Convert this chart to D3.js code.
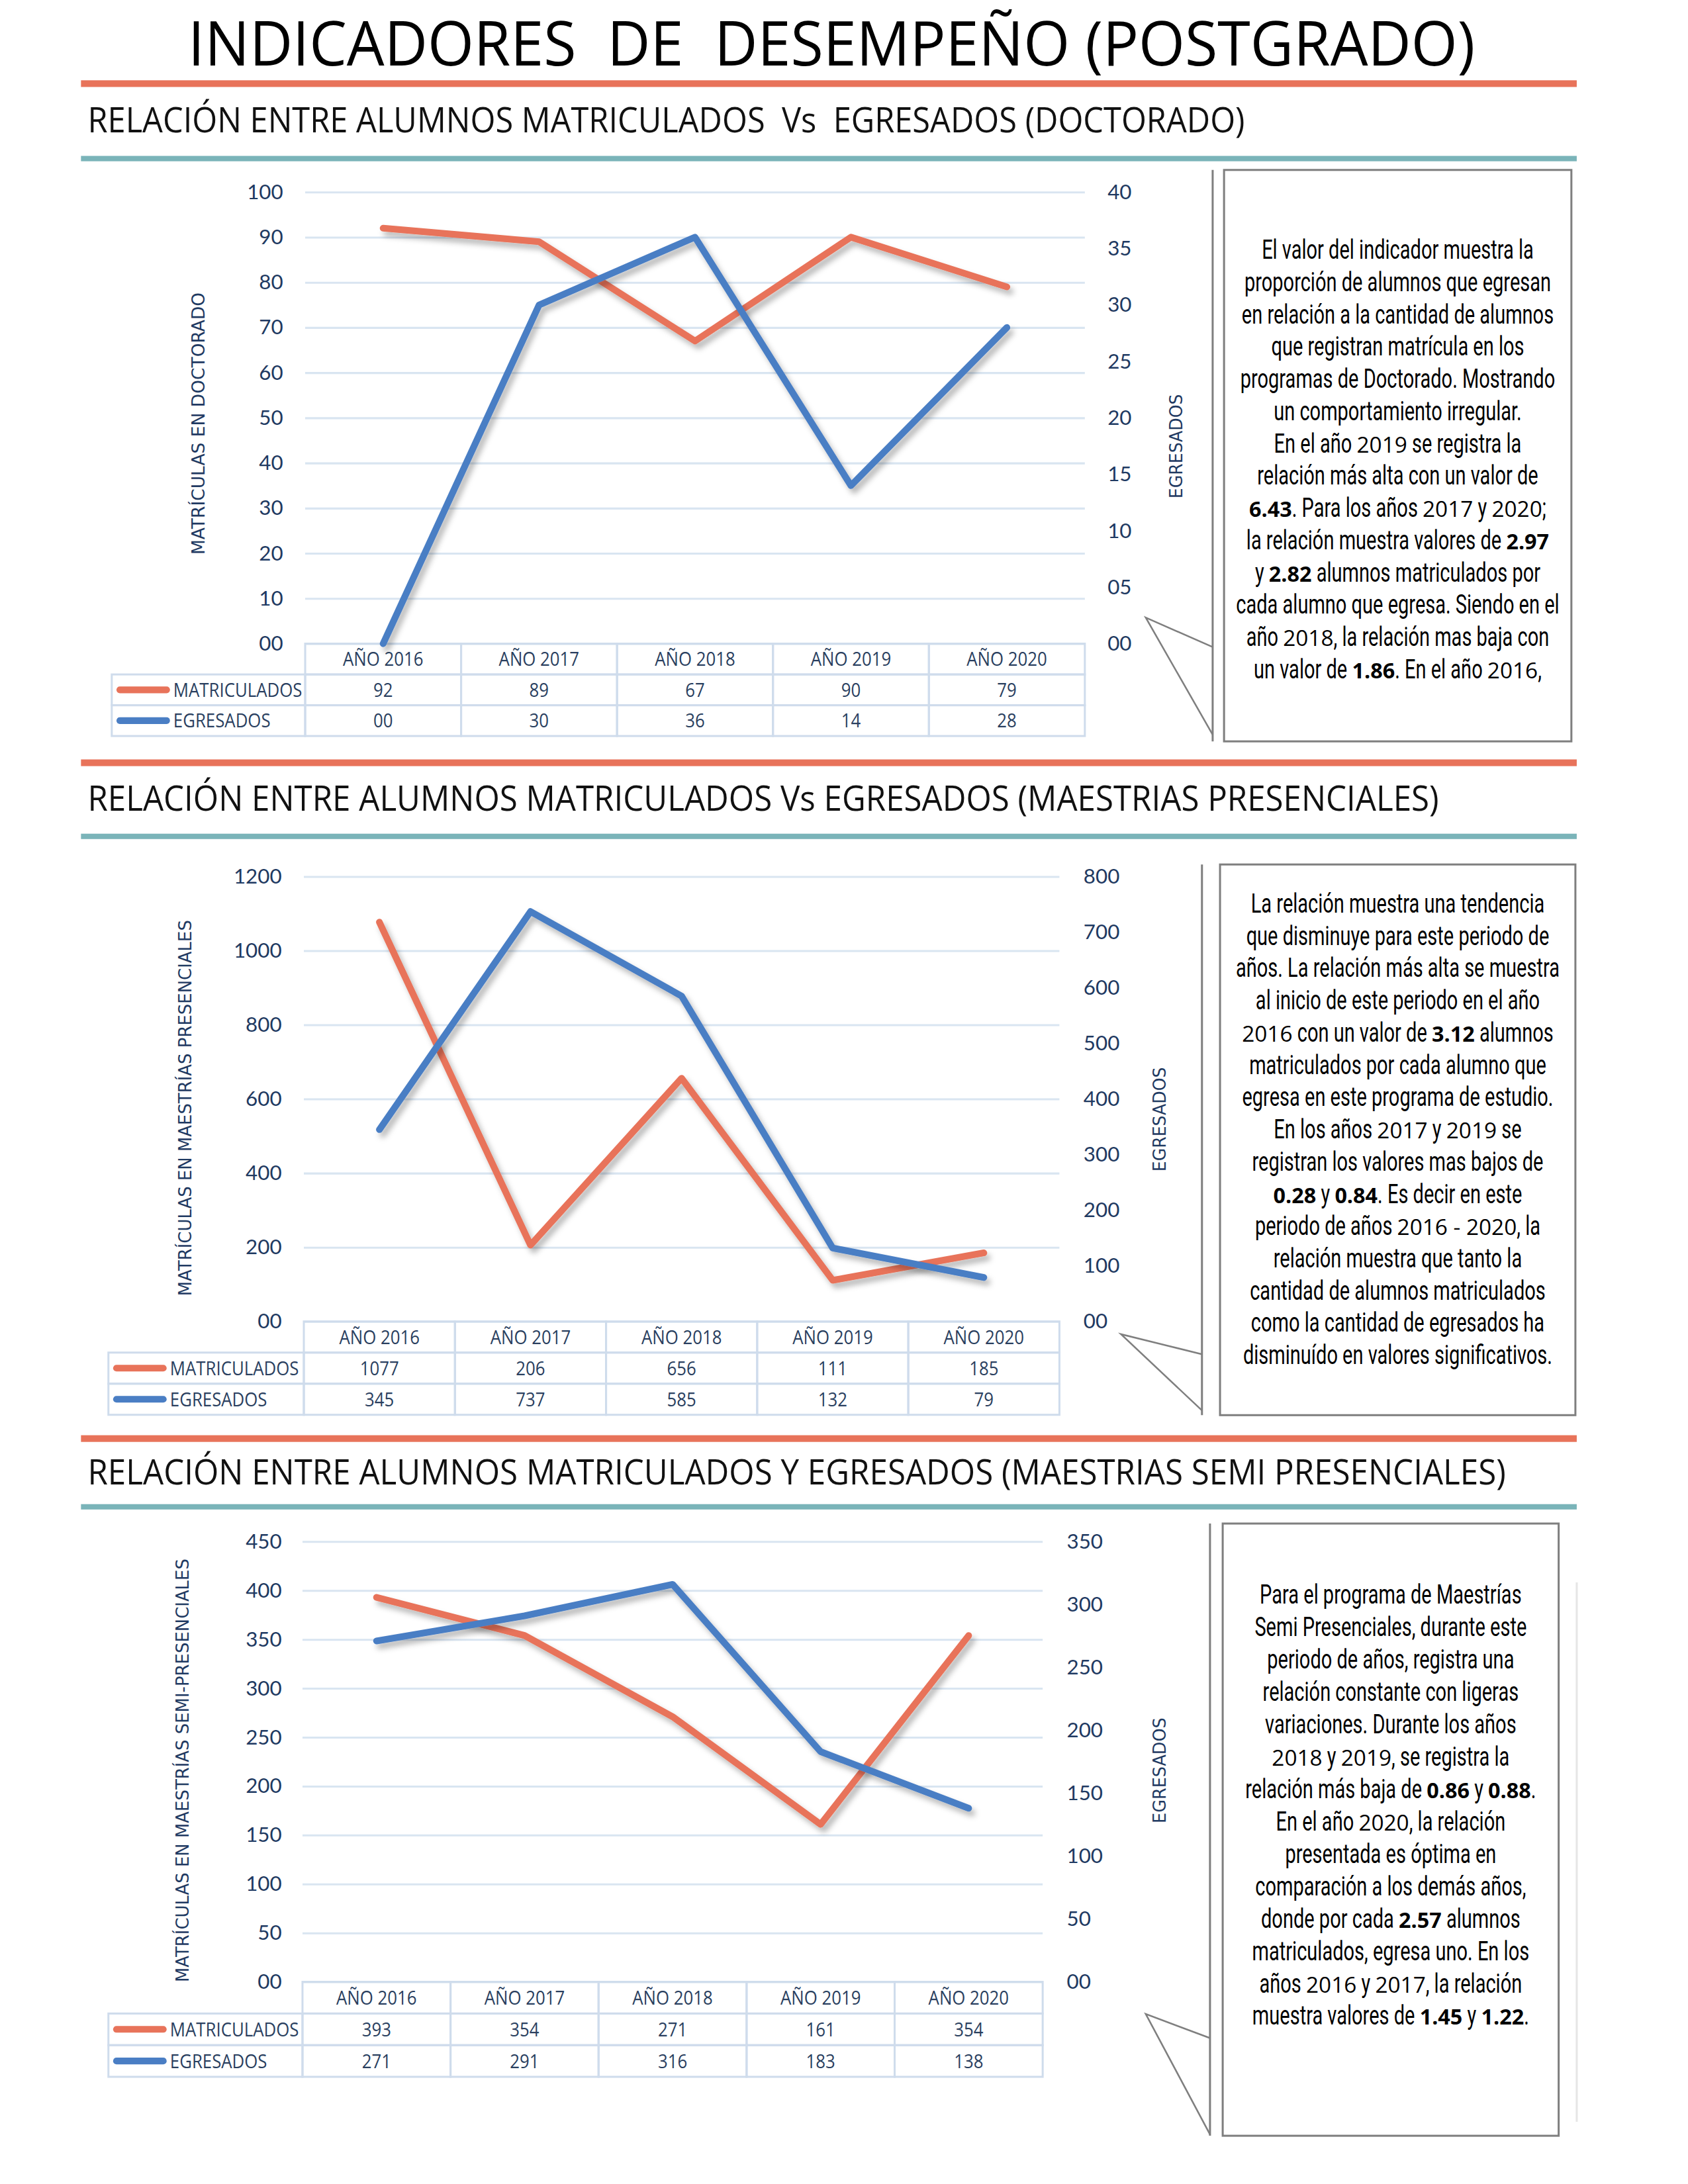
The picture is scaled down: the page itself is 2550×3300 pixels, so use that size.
<!DOCTYPE html>
<html>
<head>
<meta charset="utf-8">
<script src="https://cdn.jsdelivr.net/npm/d3@7"></script>
<style>
  body { margin: 0; background: #fff; }
  svg { display: block; }
</style>
</head>
<body>
<script>
// ---------------------------------------------------------------
// datos
// ---------------------------------------------------------------
var years = ["AÑO 2016", "AÑO 2017", "AÑO 2018", "AÑO 2019", "AÑO 2020"];
var seriesNames = ["MATRICULADOS", "EGRESADOS"];

var docMatriculados = [92, 89, 67, 90, 79];
var docEgresados = [0, 30, 36, 14, 28];
var docLeftTicks = [0, 10, 20, 30, 40, 50, 60, 70, 80, 90, 100];
var docRightTicks = [0, 5, 10, 15, 20, 25, 30, 35, 40];

var presMatriculados = [1077, 206, 656, 111, 185];
var presEgresados = [345, 737, 585, 132, 79];
var presLeftTicks = [0, 200, 400, 600, 800, 1000, 1200];
var presRightTicks = [0, 100, 200, 300, 400, 500, 600, 700, 800];

var semiMatriculados = [393, 354, 271, 161, 354];
var semiEgresados = [271, 291, 316, 183, 138];
var semiLeftTicks = [0, 50, 100, 150, 200, 250, 300, 350, 400, 450];
var semiRightTicks = [0, 50, 100, 150, 200, 250, 300, 350];

var tituloGeneral = "INDICADORES  DE  DESEMPEÑO (POSTGRADO)";
var docTitulo = "RELACIÓN ENTRE ALUMNOS MATRICULADOS  Vs  EGRESADOS (DOCTORADO)";
var presTitulo = "RELACIÓN ENTRE ALUMNOS MATRICULADOS Vs EGRESADOS (MAESTRIAS PRESENCIALES)";
var semiTitulo = "RELACIÓN ENTRE ALUMNOS MATRICULADOS Y EGRESADOS (MAESTRIAS SEMI PRESENCIALES)";

var docEje = "MATRÍCULAS EN DOCTORADO";
var presEje = "MATRÍCULAS EN MAESTRÍAS PRESENCIALES";
var semiEje = "MATRÍCULAS EN MAESTRÍAS SEMI-PRESENCIALES";
var ejeDerecho = "EGRESADOS";

var docTexto = [
  "El valor del indicador muestra la",
  "proporción de alumnos que egresan",
  "en relación a la cantidad de alumnos",
  "que registran matrícula en los",
  "programas de Doctorado. Mostrando",
  "un comportamiento irregular.",
  "En el año 2019 se registra la",
  "relación más alta con un valor de",
  "**6.43**. Para los años 2017 y 2020;",
  "la relación muestra valores de **2.97**",
  "y **2.82** alumnos matriculados por",
  "cada alumno que egresa. Siendo en el",
  "año 2018, la relación mas baja con",
  "un valor de **1.86**. En el año 2016,"
];
var presTexto = [
  "La relación muestra una tendencia",
  "que disminuye para este periodo de",
  "años. La relación más alta se muestra",
  "al inicio de este periodo en el año",
  "2016 con un valor de **3.12** alumnos",
  "matriculados por cada alumno que",
  "egresa en este programa de estudio.",
  "En los años 2017 y 2019 se",
  "registran los valores mas bajos de",
  "**0.28** y **0.84**. Es decir en este",
  "periodo de años 2016 - 2020, la",
  "relación muestra que tanto la",
  "cantidad de alumnos matriculados",
  "como la cantidad de egresados ha",
  "disminuído en valores significativos."
];
var semiTexto = [
  "Para el programa de Maestrías",
  "Semi Presenciales, durante este",
  "periodo de años, registra una",
  "relación constante con ligeras",
  "variaciones. Durante los años",
  "2018 y 2019, se registra la",
  "relación más baja de **0.86** y **0.88**.",
  "En el año 2020, la relación",
  "presentada es óptima en",
  "comparación a los demás años,",
  "donde por cada **2.57** alumnos",
  "matriculados, egresa uno. En los",
  "años 2016 y 2017, la relación",
  "muestra valores de **1.45** y **1.22**."
];

// ---------------------------------------------------------------
// estilos
// ---------------------------------------------------------------
var NARANJA = "#e8735a", AZUL = "#4a7ec4", TEAL = "#7ab4b9";
var GRID = "#d9e5f1", TABLA = "#cfdcec", NAVY = "#1f3a62", GRIS = "#7f7f7f", TXT = "#2a3f5f";
var SANS = "'Open Sans',sans-serif";
var ESTRECHO = 0.70;   // compresion horizontal del texto de los cuadros

var W = 2550, H = 3300;
var svg = d3.select("body").append("svg").attr("width", W).attr("height", H);

var filtro = svg.append("defs").append("filter").attr("id", "sombra")
  .attr("x", "-10%").attr("y", "-10%").attr("width", "130%").attr("height", "140%");
filtro.append("feDropShadow").attr("dx", 5).attr("dy", 7).attr("stdDeviation", 4)
  .attr("flood-color", "#000").attr("flood-opacity", 0.28);

// medidas tomadas sobre un marco de 2520 px, se ajusta a la pagina
var root = svg.append("g").attr("transform", "scale(1.011)");

root.append("text").attr("x", 281).attr("y", 98)
  .attr("font-family", SANS).attr("font-size", 92)
  .attr("textLength", 1923).attr("lengthAdjust", "spacingAndGlyphs")
  .style("white-space", "pre").attr("fill", "#000").text(tituloGeneral);

var paneles = [
  { titulo: docTitulo, tituloY: 198, tituloW: 1729, barraY: 125, lineaY: 237,
    x0: 456, x1: 1621, yTop: 287, yBottom: 962, rowH: 46, legX: 167,
    izqX: 423, derX: 1655, eje: docEje, ejeX: 296, ejeY: 633, ejeL: 392, ejeFs: 27,
    derTX: 1757, derTY: 667, derTL: 156,
    matric: docMatriculados, egres: docEgresados, ticksIzq: docLeftTicks, ticksDer: docRightTicks,
    caja: { x: 1829, y: 254, w: 519, h: 854, vx: 1812, px: 1712, py: 923, p1: 967, p2: 1098 },
    textoY: 387, paso: 48.2, texto: docTexto },
  { titulo: presTitulo, tituloY: 1212, tituloW: 2019, barraY: 1140, lineaY: 1250,
    x0: 454, x1: 1583, yTop: 1310, yBottom: 1975, rowH: 46.5, legX: 162,
    izqX: 421, derX: 1619, eje: presEje, ejeX: 277, ejeY: 1656, ejeL: 562, ejeFs: 26,
    derTX: 1733, derTY: 1673, derTL: 156,
    matric: presMatriculados, egres: presEgresados, ticksIzq: presLeftTicks, ticksDer: presRightTicks,
    caja: { x: 1823, y: 1292, w: 531, h: 823, vx: 1796, px: 1675, py: 1994, p1: 2024, p2: 2108 },
    textoY: 1364, paso: 48.2, texto: presTexto },
  { titulo: semiTitulo, tituloY: 2219, tituloW: 2119, barraY: 2150, lineaY: 2252,
    x0: 452, x1: 1558, yTop: 2304, yBottom: 2962, rowH: 47.3, legX: 162,
    izqX: 421, derX: 1594, eje: semiEje, ejeX: 273, ejeY: 2646, ejeL: 633, ejeFs: 26,
    derTX: 1733, derTY: 2646, derTL: 158,
    matric: semiMatriculados, egres: semiEgresados, ticksIzq: semiLeftTicks, ticksDer: semiRightTicks,
    caja: { x: 1827, y: 2277, w: 502, h: 915, vx: 1808, px: 1712, py: 3010, p1: 3046, p2: 3190 },
    textoY: 2397, paso: 48.4, texto: semiTexto }
];

var fmt = d3.format("02d");

// texto de tabla, algo condensado como el original
function celda(g, x, y, txt, anchor) {
  g.append("text").attr("transform", "translate(" + x + "," + y + ") scale(0.88,1)")
    .attr("dy", "0.36em").attr("text-anchor", anchor || "middle")
    .attr("font-family", SANS).attr("font-size", 29).attr("fill", TXT).text(txt);
}

// una linea del cuadro: texto estrecho + cifras en letra normal
function escribirLinea(g, linea, cx, y) {
  var gl = g.append("g");
  var pos = 0;
  linea.split(/(\*\*[^*]+\*\*|\d{4}(?: - \d{4})?)/).forEach(function(s) {
    if (!s) return;
    var bold = s.indexOf("**") === 0, num = /^\d/.test(s);
    var t = gl.append("text").attr("y", y).style("white-space", "pre").attr("fill", "#000");
    var k = 1;
    if (bold) {
      t.text(s.slice(2, -2)).attr("font-family", SANS).attr("font-weight", 700).attr("font-size", 32);
    } else if (num) {
      t.text(s).attr("font-family", SANS).attr("font-size", 33);
    } else {
      t.text(s).attr("font-family", "Roboto,sans-serif").attr("font-size", 41);
      k = ESTRECHO;
    }
    t.attr("transform", "translate(" + pos + ",0) scale(" + k + ",1)");
    pos += t.node().getComputedTextLength() * k;
  });
  gl.attr("transform", "translate(" + (cx - pos / 2) + ",0)");
}

paneles.forEach(function(p) {
  var g = root.append("g");

  // barras de cabecera
  g.append("rect").attr("x", 121).attr("y", p.barraY - 5).attr("width", 2235).attr("height", 10).attr("fill", NARANJA);
  g.append("rect").attr("x", 121).attr("y", p.lineaY - 4).attr("width", 2235).attr("height", 8).attr("fill", TEAL);

  g.append("text").attr("x", 131).attr("y", p.tituloY)
    .attr("font-family", SANS).attr("font-size", 52)
    .attr("textLength", p.tituloW).attr("lengthAdjust", "spacingAndGlyphs")
    .style("white-space", "pre").attr("fill", "#111").text(p.titulo);

  var x = d3.scaleBand().domain(years).range([p.x0, p.x1]);
  var yL = d3.scaleLinear().domain([0, d3.max(p.ticksIzq)]).range([p.yBottom, p.yTop]);
  var yR = d3.scaleLinear().domain([0, d3.max(p.ticksDer)]).range([p.yBottom, p.yTop]);

  // grilla + eje izquierdo
  var ejeIzq = g.append("g").attr("transform", "translate(" + p.x0 + ",0)")
    .call(d3.axisLeft(yL).tickValues(p.ticksIzq).tickFormat(fmt)
      .tickSize(-(p.x1 - p.x0)).tickPadding(p.x0 - p.izqX));
  ejeIzq.select(".domain").remove();
  ejeIzq.selectAll("line").attr("stroke", GRID).attr("stroke-width", 3);
  ejeIzq.selectAll("text").attr("font-family", "Lato,sans-serif").attr("font-size", 31).attr("fill", NAVY);

  var ejeDer = g.append("g").attr("transform", "translate(" + p.x1 + ",0)")
    .call(d3.axisRight(yR).tickValues(p.ticksDer).tickFormat(fmt)
      .tickSize(0).tickPadding(p.derX - p.x1));
  ejeDer.select(".domain").remove();
  ejeDer.selectAll("text").attr("font-family", "Lato,sans-serif").attr("font-size", 31).attr("fill", NAVY);

  // titulos de ejes
  g.append("text").attr("transform", "translate(" + p.ejeX + "," + p.ejeY + ") rotate(-90)")
    .attr("text-anchor", "middle").attr("dy", "0.35em")
    .attr("font-family", "'DejaVu Sans',sans-serif").attr("font-size", p.ejeFs)
    .attr("textLength", p.ejeL).attr("lengthAdjust", "spacingAndGlyphs")
    .attr("fill", NAVY).text(p.eje);
  g.append("text").attr("transform", "translate(" + p.derTX + "," + p.derTY + ") rotate(-90)")
    .attr("text-anchor", "middle").attr("dy", "0.35em")
    .attr("font-family", "'DejaVu Sans',sans-serif").attr("font-size", 26)
    .attr("textLength", p.derTL).attr("lengthAdjust", "spacingAndGlyphs")
    .attr("fill", NAVY).text(ejeDerecho);

  // tabla de datos
  var t = g.append("g");
  var yRow = function(i) { return p.yBottom + i * p.rowH; };
  years.forEach(function(yr, j) {
    for (var i = 0; i < 3; i++) {
      t.append("rect").attr("x", x(yr)).attr("y", yRow(i))
        .attr("width", x.bandwidth()).attr("height", p.rowH)
        .attr("fill", "none").attr("stroke", TABLA).attr("stroke-width", 3);
    }
    var mid = x(yr) + x.bandwidth() / 2;
    celda(t, mid, yRow(0) + p.rowH / 2, yr);
    celda(t, mid, yRow(1) + p.rowH / 2, fmt(p.matric[j]));
    celda(t, mid, yRow(2) + p.rowH / 2, fmt(p.egres[j]));
  });
  [NARANJA, AZUL].forEach(function(c, i) {
    t.append("rect").attr("x", p.legX).attr("y", yRow(i + 1))
      .attr("width", p.x0 - p.legX).attr("height", p.rowH)
      .attr("fill", "none").attr("stroke", TABLA).attr("stroke-width", 3);
    t.append("line").attr("x1", p.legX + 12).attr("x2", p.legX + 82)
      .attr("y1", yRow(i + 1) + p.rowH / 2).attr("y2", yRow(i + 1) + p.rowH / 2)
      .attr("stroke", c).attr("stroke-width", 10).attr("stroke-linecap", "round");
    celda(t, p.legX + 92, yRow(i + 1) + p.rowH / 2, seriesNames[i], "start");
  });

  // lineas
  var cx = function(j) { return x(years[j]) + x.bandwidth() / 2; };
  var lineaM = d3.line().x(function(d, j) { return cx(j); }).y(function(d) { return yL(d); });
  var lineaE = d3.line().x(function(d, j) { return cx(j); }).y(function(d) { return yR(d); });
  g.append("path").datum(p.matric).attr("d", lineaM).attr("fill", "none")
    .attr("stroke", NARANJA).attr("stroke-width", 10).attr("stroke-linejoin", "round")
    .attr("stroke-linecap", "round").attr("filter", "url(#sombra)");
  g.append("path").datum(p.egres).attr("d", lineaE).attr("fill", "none")
    .attr("stroke", AZUL).attr("stroke-width", 10).attr("stroke-linejoin", "round")
    .attr("stroke-linecap", "round").attr("filter", "url(#sombra)");

  // caja de texto con llamada
  var c = p.caja;
  g.append("line").attr("x1", c.vx).attr("x2", c.vx).attr("y1", c.y).attr("y2", c.y + c.h)
    .attr("stroke", GRIS).attr("stroke-width", 3);
  g.append("path").attr("d", "M" + c.vx + "," + c.p1 + "L" + c.px + "," + c.py + "L" + c.vx + "," + c.p2)
    .attr("fill", "none").attr("stroke", GRIS).attr("stroke-width", 2.5);
  g.append("rect").attr("x", c.x).attr("y", c.y).attr("width", c.w).attr("height", c.h)
    .attr("fill", "#fff").attr("stroke", GRIS).attr("stroke-width", 3);

  p.texto.forEach(function(linea, i) {
    escribirLinea(g, linea, c.x + c.w / 2, p.textoY + i * p.paso);
  });
});

// linea tenue a la derecha del ultimo cuadro
root.append("line").attr("x1", 2356).attr("x2", 2356).attr("y1", 2365).attr("y2", 3171)
  .attr("stroke", "#e6e6e6").attr("stroke-width", 3);
</script>
</body>
</html>
